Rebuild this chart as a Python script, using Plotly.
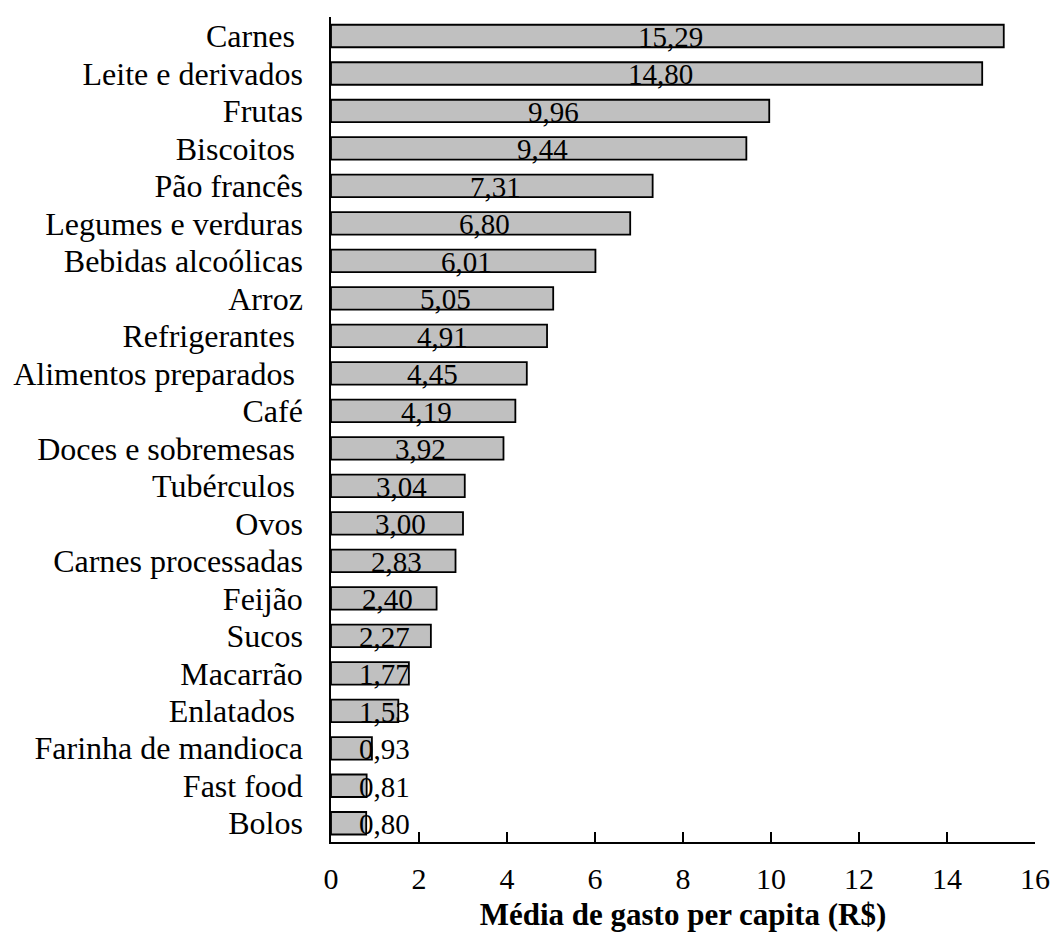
import plotly.graph_objects as go

# Average per-capita spending by food group (R$)
categorias = [
    "Carnes", "Leite e derivados", "Frutas", "Biscoitos", "Pão francês",
    "Legumes e verduras", "Bebidas alcoólicas", "Arroz", "Refrigerantes",
    "Alimentos preparados", "Café", "Doces e sobremesas", "Tubérculos",
    "Ovos", "Carnes processadas", "Feijão", "Sucos", "Macarrão",
    "Enlatados", "Farinha de mandioca", "Fast food", "Bolos",
]
gasto = [
    15.29, 14.80, 9.96, 9.44, 7.31, 6.80, 6.01, 5.05, 4.91, 4.45, 4.19,
    3.92, 3.04, 3.00, 2.83, 2.40, 2.27, 1.77, 1.53, 0.93, 0.81, 0.80,
]
# Labels that carry a trailing blank in the axis text
com_espaco = {"Carnes", "Biscoitos", "Refrigerantes", "Alimentos preparados",
              "Doces e sobremesas", "Tubérculos", "Enlatados"}
rotulos = [c + ("\u00a0" if c in com_espaco else "") for c in categorias]

x_ticks = [0, 2, 4, 6, 8, 10, 12, 14, 16]

FONTE = "Liberation Serif"

fig = go.Figure(
    go.Bar(
        x=gasto,
        y=categorias,
        orientation="h",
        width=0.6,
        marker=dict(color="#c0c0c0", line=dict(color="#000000", width=1.8)),
        hoverinfo="x+y",
    )
)

# Value labels, written with a decimal comma
for c, v in zip(categorias, gasto):
    fig.add_annotation(
        x=max(v / 2 + 0.08, 1.22),
        y=c,
        text=f"{v:.2f}".replace(".", ","),
        showarrow=False,
        xanchor="center",
        yanchor="middle",
        yshift=-1,
        font=dict(family=FONTE, size=29, color="#000000"),
    )

fig.update_layout(
    width=1062,
    height=942,
    margin=dict(l=331, r=21, t=17, b=100),
    paper_bgcolor="#ffffff",
    plot_bgcolor="#ffffff",
    showlegend=False,
    font=dict(family=FONTE, color="#000000"),
)

fig.update_xaxes(
    range=[0, 16],
    tickvals=x_ticks,
    ticktext=[str(t) for t in x_ticks],
    ticks="inside",
    ticklen=10,
    tickwidth=1.5,
    tickcolor="#000000",
    showline=True,
    linecolor="#000000",
    linewidth=1.5,
    showgrid=False,
    zeroline=False,
    ticklabelstandoff=9,
    tickfont=dict(family=FONTE, size=30, color="#000000"),
    title=dict(
        text="<b>Média de gasto per capita (R$)</b>",
        font=dict(family=FONTE, size=31, color="#000000"),
        standoff=10,
    ),
)

fig.update_yaxes(
    type="category",
    categoryorder="array",
    categoryarray=categorias,
    tickvals=categorias,
    ticktext=rotulos,
    autorange="reversed",
    ticks="",
    showline=True,
    linecolor="#000000",
    linewidth=1.5,
    showgrid=False,
    zeroline=False,
    ticklabelstandoff=20,
    tickfont=dict(family=FONTE, size=32, color="#000000"),
)

fig.write_html("out.html")
